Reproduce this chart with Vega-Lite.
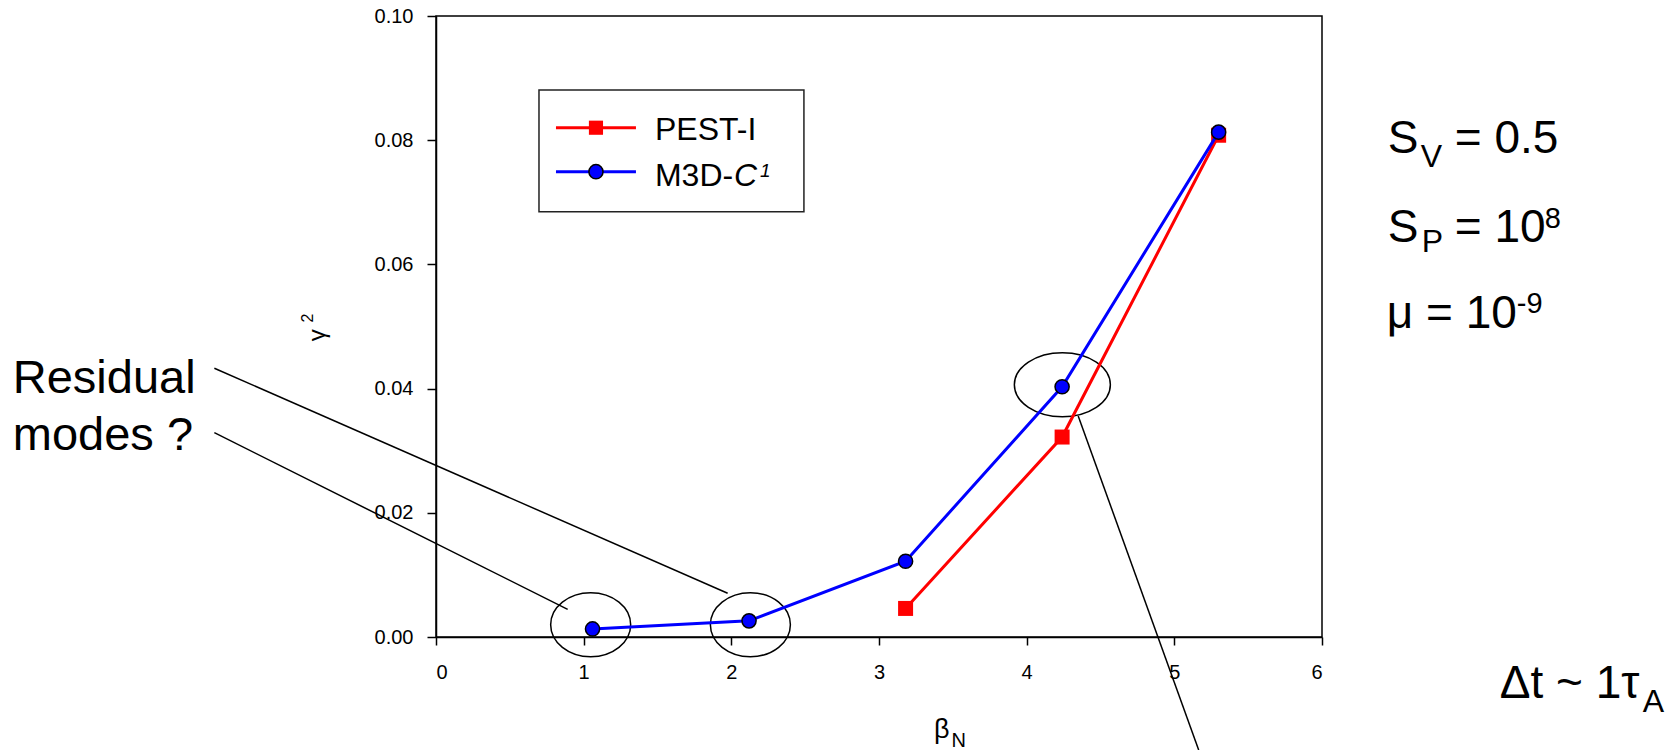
{
  "$schema": "https://vega.github.io/schema/vega-lite/v6.json",
  "width": 886,
  "height": 621,
  "autosize": "none",
  "padding": {"left": 436, "top": 16, "right": 358, "bottom": 113},
  "background": "white",
  "config": {
    "font": "Liberation Sans",
    "view": {"stroke": "black", "strokeWidth": 1.5},
    "axis": {
      "grid": false,
      "domainColor": "black",
      "domainWidth": 1.5,
      "tickColor": "black",
      "tickWidth": 1.5,
      "labelColor": "black",
      "labelFont": "Liberation Sans",
      "labelFontSize": 20,
      "title": null
    }
  },
  "datasets": {
    "pest": [
      {"x": 3.18, "y": 0.0046},
      {"x": 4.24, "y": 0.0322},
      {"x": 5.30, "y": 0.0808}
    ],
    "m3d": [
      {"x": 1.06, "y": 0.0013},
      {"x": 2.12, "y": 0.0026},
      {"x": 3.18, "y": 0.0122},
      {"x": 4.24, "y": 0.0403},
      {"x": 5.30, "y": 0.0813}
    ],
    "pointers": [
      {"x": -1.501, "y": 0.04327, "x2": 1.975, "y2": 0.00704},
      {"x": -1.501, "y": 0.0329, "x2": 0.8917, "y2": 0.00446},
      {"x": 4.349, "y": 0.03559, "x2": 5.165, "y2": -0.0182}
    ],
    "rings": [
      {"x": 1.0474, "y": 0.00198},
      {"x": 2.129, "y": 0.00198}
    ],
    "wideRing": [
      {"x": 4.2417, "y": 0.04063}
    ],
    "legendBox": [
      {"x": 0.6974, "x2": 2.4916, "y": 0.08808, "y2": 0.06849}
    ],
    "legendPest": [
      {"x": 0.8125, "x2": 1.3541, "y": 0.08201, "y2": 0.08201, "xm": 1.0833}
    ],
    "legendM3d": [
      {"x": 0.8125, "x2": 1.3541, "y": 0.07493, "y2": 0.07493, "xm": 1.0833}
    ],
    "legendText": [
      {"x": 1.4828, "y": 0.0801, "t": "PEST-I"},
      {"x": 1.4828, "y": 0.07267, "t": "M3D-"}
    ],
    "legendItalic": [
      {"x": 2.0175, "y": 0.07267, "t": "C"}
    ],
    "legendSup": [
      {"x": 2.1937, "y": 0.07407, "t": "1"}
    ],
    "params": [
      {"x": 6.4455, "y": 0.07794, "t": "S"},
      {"x": 6.899, "y": 0.07794, "t": "= 0.5"},
      {"x": 6.4455, "y": 0.06361, "t": "S"},
      {"x": 6.899, "y": 0.06361, "t": "= 10"},
      {"x": 6.4387, "y": 0.04976, "t": "μ = 10"},
      {"x": 7.2038, "y": -0.00982, "t": "Δt ~ 1τ"}
    ],
    "paramSub": [
      {"x": 6.6689, "y": 0.07568, "t": "V"},
      {"x": 6.6757, "y": 0.062, "t": "P"},
      {"x": 8.172, "y": -0.01208, "t": "A"}
    ],
    "paramSup": [
      {"x": 7.5085, "y": 0.06586, "t": "8"},
      {"x": 7.3189, "y": 0.05217, "t": "-9"}
    ],
    "question": [
      {"x": -2.866, "y": 0.03929, "t": "Residual"},
      {"x": -2.866, "y": 0.03011, "t": "modes ?"}
    ],
    "xTitle": [
      {"x": 3.3717, "y": -0.01626, "t": "β"}
    ],
    "xTitleSub": [
      {"x": 3.4915, "y": -0.01767, "t": "N"}
    ],
    "yTitle": [
      {"x": -0.7515, "y": 0.0486, "t": "γ"}
    ],
    "yTitleSup": [
      {"x": -0.8328, "y": 0.05137, "t": "2"}
    ]
  },
  "encoding": {
    "x": {
      "field": "x",
      "type": "quantitative",
      "scale": {"domain": [0, 6], "nice": false, "zero": false},
      "axis": {"values": [0, 1, 2, 3, 4, 5, 6], "format": "d", "tickSize": 8, "labelPadding": 17}
    },
    "y": {
      "field": "y",
      "type": "quantitative",
      "scale": {"domain": [0, 0.1], "nice": false, "zero": false},
      "axis": {"values": [0, 0.02, 0.04, 0.06, 0.08, 0.1], "format": ".2f", "tickSize": 9, "labelPadding": 14}
    }
  },
  "layer": [
    {
      "data": {"name": "pointers"},
      "mark": {"type": "rule", "color": "black", "strokeWidth": 1.5},
      "encoding": {"x2": {"field": "x2"}, "y2": {"field": "y2"}}
    },
    {
      "data": {"name": "rings"},
      "mark": {
        "type": "point",
        "filled": false,
        "color": "black",
        "strokeWidth": 1.5,
        "opacity": 1,
        "size": 4096,
        "shape": "M1.25,0C1.25,0.5523 0.6904,1 0,1C-0.6904,1 -1.25,0.5523 -1.25,0C-1.25,-0.5523 -0.6904,-1 0,-1C0.6904,-1 1.25,-0.5523 1.25,0Z"
      }
    },
    {
      "data": {"name": "wideRing"},
      "mark": {
        "type": "point",
        "filled": false,
        "color": "black",
        "strokeWidth": 1.5,
        "opacity": 1,
        "size": 4096,
        "shape": "M1.5,0C1.5,0.5523 0.8285,1 0,1C-0.8285,1 -1.5,0.5523 -1.5,0C-1.5,-0.5523 -0.8285,-1 0,-1C0.8285,-1 1.5,-0.5523 1.5,0Z"
      }
    },
    {
      "data": {"name": "pest"},
      "mark": {"type": "line", "color": "#ff0000", "strokeWidth": 3}
    },
    {
      "data": {"name": "pest"},
      "mark": {"type": "point", "shape": "square", "filled": true, "color": "#ff0000", "size": 225, "opacity": 1}
    },
    {
      "data": {"name": "m3d"},
      "mark": {"type": "line", "color": "#0000ff", "strokeWidth": 3}
    },
    {
      "data": {"name": "m3d"},
      "mark": {"type": "point", "shape": "circle", "filled": true, "fill": "#0000ff", "stroke": "black", "strokeWidth": 1.5, "size": 200, "opacity": 1}
    },
    {
      "data": {"name": "legendBox"},
      "mark": {"type": "rect", "fill": "white", "stroke": "#222222", "strokeWidth": 1.5},
      "encoding": {"x2": {"field": "x2"}, "y2": {"field": "y2"}}
    },
    {
      "data": {"name": "legendPest"},
      "mark": {"type": "rule", "color": "#ff0000", "strokeWidth": 3},
      "encoding": {"x2": {"field": "x2"}, "y2": {"field": "y2"}}
    },
    {
      "data": {"name": "legendPest"},
      "mark": {"type": "point", "shape": "square", "filled": true, "color": "#ff0000", "size": 200, "opacity": 1},
      "encoding": {"x": {"field": "xm", "type": "quantitative"}}
    },
    {
      "data": {"name": "legendM3d"},
      "mark": {"type": "rule", "color": "#0000ff", "strokeWidth": 3},
      "encoding": {"x2": {"field": "x2"}, "y2": {"field": "y2"}}
    },
    {
      "data": {"name": "legendM3d"},
      "mark": {"type": "point", "shape": "circle", "filled": true, "fill": "#0000ff", "stroke": "black", "strokeWidth": 1.5, "size": 200, "opacity": 1},
      "encoding": {"x": {"field": "xm", "type": "quantitative"}}
    },
    {
      "data": {"name": "legendText"},
      "mark": {"type": "text", "align": "left", "baseline": "alphabetic", "fontSize": 32, "color": "black"},
      "encoding": {"text": {"field": "t"}}
    },
    {
      "data": {"name": "legendItalic"},
      "mark": {"type": "text", "align": "left", "baseline": "alphabetic", "fontSize": 32, "fontStyle": "italic", "color": "black"},
      "encoding": {"text": {"field": "t"}}
    },
    {
      "data": {"name": "legendSup"},
      "mark": {"type": "text", "align": "left", "baseline": "alphabetic", "fontSize": 19, "fontStyle": "italic", "color": "black"},
      "encoding": {"text": {"field": "t"}}
    },
    {
      "data": {"name": "params"},
      "mark": {"type": "text", "align": "left", "baseline": "alphabetic", "fontSize": 46, "color": "black"},
      "encoding": {"text": {"field": "t"}}
    },
    {
      "data": {"name": "paramSub"},
      "mark": {"type": "text", "align": "left", "baseline": "alphabetic", "fontSize": 32, "color": "black"},
      "encoding": {"text": {"field": "t"}}
    },
    {
      "data": {"name": "paramSup"},
      "mark": {"type": "text", "align": "left", "baseline": "alphabetic", "fontSize": 29, "color": "black"},
      "encoding": {"text": {"field": "t"}}
    },
    {
      "data": {"name": "question"},
      "mark": {"type": "text", "align": "left", "baseline": "alphabetic", "fontSize": 47, "color": "black"},
      "encoding": {"text": {"field": "t"}}
    },
    {
      "data": {"name": "xTitle"},
      "mark": {"type": "text", "align": "left", "baseline": "alphabetic", "fontSize": 27, "color": "black"},
      "encoding": {"text": {"field": "t"}}
    },
    {
      "data": {"name": "xTitleSub"},
      "mark": {"type": "text", "align": "left", "baseline": "alphabetic", "fontSize": 20, "color": "black"},
      "encoding": {"text": {"field": "t"}}
    },
    {
      "data": {"name": "yTitle"},
      "mark": {"type": "text", "align": "center", "baseline": "alphabetic", "angle": 270, "fontSize": 24, "color": "black"},
      "encoding": {"text": {"field": "t"}}
    },
    {
      "data": {"name": "yTitleSup"},
      "mark": {"type": "text", "align": "center", "baseline": "alphabetic", "angle": 270, "fontSize": 16, "color": "black"},
      "encoding": {"text": {"field": "t"}}
    }
  ]
}
